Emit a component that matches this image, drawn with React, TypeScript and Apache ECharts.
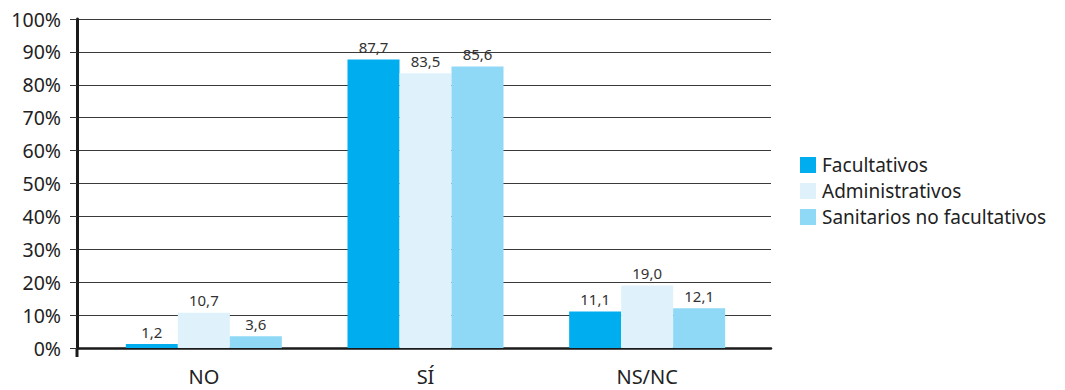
import React, { useEffect, useRef } from "react";
import * as echarts from "echarts";

const categories = ["NO", "SÍ", "NS/NC"];
const facultativos = [1.2, 87.7, 11.1];
const administrativos = [10.7, 83.5, 19.0];
const sanitarios = [3.6, 85.6, 12.1];
const seriesNames = ["Facultativos", "Administrativos", "Sanitarios no facultativos"];
const seriesColors = ["#00AEEF", "#DFF2FB", "#8FD8F6"];

const FONT = "'Noto Sans', sans-serif";

const fmt = (v: number) => v.toFixed(1).replace(".", ",");

export default function App() {
  const ref = useRef<HTMLDivElement>(null);

  useEffect(() => {
    if (!ref.current) return;
    const chart = echarts.init(ref.current, undefined, { renderer: "svg" });
    const values = [facultativos, administrativos, sanitarios];

    chart.setOption({
      animation: false,
      backgroundColor: "#ffffff",
      textStyle: { fontFamily: FONT },
      grid: [
        // bars
        { left: 93, right: 307, top: 19, bottom: 42 },
        // frame: gridlines and axes
        { left: 77, right: 294, top: 19, bottom: 42 },
      ],
      legend: {
        orient: "vertical",
        left: 795,
        top: 150,
        itemWidth: 16,
        itemHeight: 16,
        itemGap: 6,
        icon: "rect",
        data: seriesNames,
        textStyle: {
          fontFamily: FONT,
          fontSize: 19,
          lineHeight: 20,
          color: "#222",
          padding: [0, 0, 0, 1],
        },
      },
      xAxis: [
        {
          type: "category",
          gridIndex: 0,
          data: categories,
          axisLine: { show: false },
          axisTick: { show: false },
          axisLabel: { fontFamily: FONT, fontSize: 20, color: "#222", margin: 18 },
        },
        {
          type: "value",
          gridIndex: 1,
          min: 0,
          max: 1,
          axisLine: { show: true, lineStyle: { color: "#1a1a1a", width: 2.5 } },
          axisTick: { show: false },
          axisLabel: { show: false },
          splitLine: { show: false },
        },
      ],
      yAxis: [
        {
          type: "value",
          gridIndex: 0,
          min: 0,
          max: 100,
          show: false,
        },
        {
          type: "value",
          gridIndex: 1,
          min: 0,
          max: 100,
          interval: 10,
          axisLine: { show: true, lineStyle: { color: "#1a1a1a", width: 3 } },
          axisTick: { show: true, length: 7, lineStyle: { color: "#333", width: 1 } },
          axisLabel: {
            formatter: "{value}%",
            fontFamily: FONT,
            fontSize: 19.5,
            color: "#222",
            margin: 16,
          },
          splitLine: { show: true, lineStyle: { color: "#3a3a3a", width: 1.2 } },
        },
      ],
      graphic: [
        {
          type: "line",
          shape: { x1: 77, y1: 348, x2: 77, y2: 357 },
          style: { stroke: "#1a1a1a", lineWidth: 3 },
        },
      ],
      series: seriesNames.map((name, i) => ({
        name,
        type: "bar",
        xAxisIndex: 0,
        yAxisIndex: 0,
        data: values[i],
        barWidth: 52,
        barGap: "0%",
        itemStyle: { color: seriesColors[i] },
        label: {
          show: true,
          position: "top",
          distance: 5,
          fontFamily: FONT,
          fontSize: 15,
          color: "#333",
          formatter: (p: any) => fmt(p.value),
        },
      })),
    });

    return () => chart.dispose();
  }, []);

  return (
    <div
      ref={ref}
      style={{ position: "absolute", left: 0, top: 0, width: 1065, height: 390 }}
    />
  );
}
